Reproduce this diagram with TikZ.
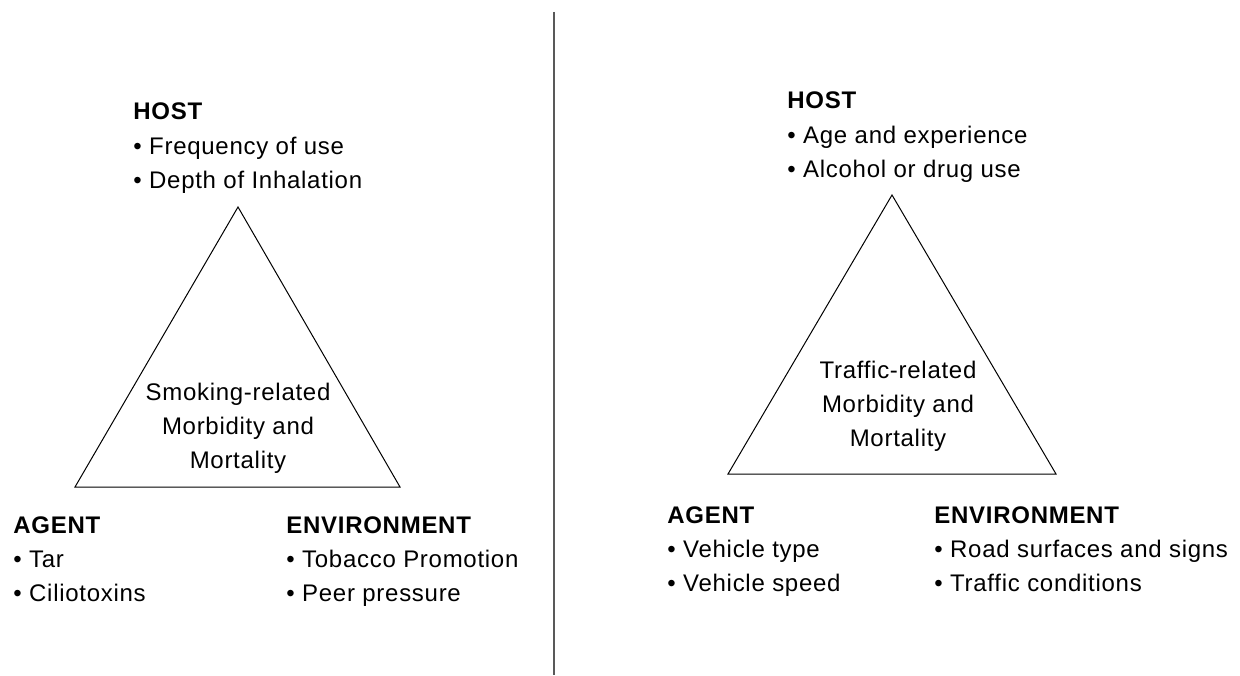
\documentclass[tikz,border=0pt]{standalone}
\usepackage{fontspec}
\setmainfont{Liberation Sans}[LetterSpace=3]
\usetikzlibrary{calc}

\begin{document}
\begin{tikzpicture}[x=0.5bp, y=-0.5bp,
        factor/.style={inner sep=0pt, anchor=base west, align=left, font=\fontsize{12bp}{17bp}\selectfont},
        outcome/.style={inner sep=0pt, anchor=base, align=center, font=\fontsize{12bp}{17bp}\selectfont},
        side/.style={line width=0.5bp, line join=miter}]
    \useasboundingbox (0,0) rectangle (1240,675);
    % divider
    \coordinate (top) at (554,12);
    \coordinate (bot) at (554,675);
    \draw[line width=0.8bp, black!65] (top) -- (bot);
    % smoking triangle (nodes sit on the baseline of their last line)
    \coordinate (apexL) at (238,207);
    \coordinate (leftL) at (75,487);
    \coordinate (rightL) at (400,487);
    \draw[side] (apexL) -- (leftL) -- (rightL) -- cycle;
    \node[outcome] (triL) at (238,468) {Smoking-related\\Morbidity and\\Mortality};
    \node[factor] (hostL) at (133,188) {\textbf{HOST}\\• Frequency of use\\• Depth of Inhalation};
    \node[factor] (agentL) at (13,601) {\textbf{AGENT}\\• Tar\\• Ciliotoxins};
    \node[factor] (envL) at (286,601) {\textbf{ENVIRONMENT}\\• Tobacco Promotion\\• Peer pressure};
    % traffic triangle
    \coordinate (apexR) at (892,195);
    \coordinate (leftR) at (728,474);
    \coordinate (rightR) at (1056,474);
    \draw[side] (apexR) -- (leftR) -- (rightR) -- cycle;
    \node[outcome] (triR) at (898,446) {Traffic-related\\Morbidity and\\Mortality};
    \node[factor] (hostR) at (787,177) {\textbf{HOST}\\• Age and experience\\• Alcohol or drug use};
    \node[factor] (agentR) at (667,591) {\textbf{AGENT}\\• Vehicle type\\• Vehicle speed};
    \node[factor] (envR) at (934,591) {\textbf{ENVIRONMENT}\\• Road surfaces and signs\\• Traffic conditions};
\end{tikzpicture}
\end{document}
